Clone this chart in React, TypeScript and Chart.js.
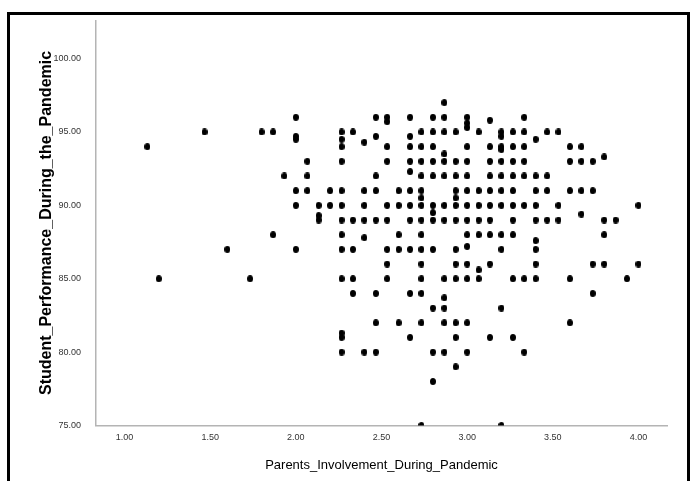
import React, { useEffect, useRef } from 'react';
import { Chart, registerables } from 'chart.js';

Chart.register(...registerables);

const xTicks = [1, 1.5, 2, 2.5, 3, 3.5, 4];
const yTicks = [75, 80, 85, 90, 95, 100];
const xTitle = 'Parents_Involvement_During_Pandemic';
const yTitle = 'Student_Performance_During_the_Pandemic';

// Student performance levels (y) and the parents' involvement scores (x) observed at each level
const performanceLevels = [
  97, 96, 95.8, 95.7, 95.6, 95.3, 95, 94.7, 94.5, 94.3, 94, 93.8, 93.5, 93.3, 93, 92.3, 92, 91, 90.5, 90,
  89.5, 89.4, 89.3, 89, 88, 87.8, 87.6, 87.2, 87, 86, 85.6, 85, 84, 83.7, 83, 82, 81.3, 81, 80, 79, 78, 75,
];

const involvementAtLevel: number[][] = [
  [2.867], // 97
  [2.0, 2.467, 2.533, 2.667, 2.8, 2.867, 3.0, 3.333], // 96
  [3.133], // 95.8
  [2.533], // 95.7
  [3.0], // 95.6
  [3.0], // 95.3
  [1.467, 1.8, 1.867, 2.267, 2.333, 2.733, 2.8, 2.867, 2.933, 3.067, 3.2, 3.267, 3.333, 3.467, 3.533], // 95
  [2.0, 2.467, 2.667, 3.2], // 94.7
  [2.0, 2.267, 3.4], // 94.5
  [2.4], // 94.3
  [1.133, 2.267, 2.533, 2.667, 2.733, 2.8, 3.0, 3.133, 3.2, 3.267, 3.333, 3.6, 3.667], // 94
  [3.2], // 93.8
  [2.867], // 93.5
  [3.8], // 93.3
  [2.067, 2.267, 2.533, 2.667, 2.733, 2.8, 2.867, 2.933, 3.0, 3.133, 3.2, 3.267, 3.333, 3.6, 3.667, 3.733], // 93
  [2.667], // 92.3
  [1.933, 2.067, 2.467, 2.733, 2.8, 2.867, 2.933, 3.0, 3.133, 3.2, 3.267, 3.333, 3.4, 3.467], // 92
  [2.0, 2.067, 2.2, 2.267, 2.4, 2.467, 2.6, 2.667, 2.733, 2.933, 3.0, 3.067, 3.133, 3.2, 3.267, 3.4, 3.467, 3.6, 3.667, 3.733], // 91
  [2.733, 2.933], // 90.5
  [2.0, 2.133, 2.2, 2.267, 2.4, 2.533, 2.6, 2.667, 2.733, 2.8, 2.867, 2.933, 3.0, 3.067, 3.133, 3.2, 3.267, 3.333, 3.4, 3.533, 4.0], // 90
  [2.8], // 89.5
  [3.667], // 89.4
  [2.133], // 89.3
  [2.133, 2.267, 2.333, 2.4, 2.467, 2.533, 2.667, 2.733, 2.8, 2.867, 2.933, 3.0, 3.067, 3.133, 3.267, 3.4, 3.467, 3.533, 3.8, 3.867], // 89
  [1.867, 2.267, 2.6, 2.733, 3.0, 3.067, 3.133, 3.2, 3.267, 3.8], // 88
  [2.4], // 87.8
  [3.4], // 87.6
  [3.0], // 87.2
  [1.6, 2.0, 2.267, 2.333, 2.533, 2.6, 2.667, 2.733, 2.8, 2.933, 3.2, 3.4], // 87
  [2.533, 2.733, 2.933, 3.0, 3.133, 3.4, 3.733, 3.8, 4.0], // 86
  [3.067], // 85.6
  [1.2, 1.733, 2.267, 2.333, 2.533, 2.733, 2.867, 2.933, 3.0, 3.067, 3.267, 3.333, 3.4, 3.6, 3.933], // 85
  [2.333, 2.467, 2.667, 2.733, 3.733], // 84
  [2.867], // 83.7
  [2.8, 2.867, 3.2], // 83
  [2.467, 2.6, 2.733, 2.867, 2.933, 3.0, 3.6], // 82
  [2.267], // 81.3
  [2.267, 2.667, 2.933, 3.133, 3.267], // 81
  [2.267, 2.4, 2.467, 2.8, 2.867, 3.0, 3.333], // 80
  [2.933], // 79
  [2.8], // 78
  [2.733, 3.2], // 75
];

const sans = "'Liberation Sans', Arial, sans-serif";

export default function App() {
  const ref = useRef<HTMLCanvasElement | null>(null);

  useEffect(() => {
    if (!ref.current) return;
    const points = performanceLevels.flatMap((y, i) => involvementAtLevel[i].map((x) => ({ x, y })));

    const dot = document.createElement('canvas');
    dot.width = 6;
    dot.height = 7;
    const dctx = dot.getContext('2d');
    if (dctx) {
      dctx.fillStyle = '#000';
      dctx.beginPath();
      dctx.ellipse(3, 3.5, 3, 3.5, 0, 0, Math.PI * 2);
      dctx.fill();
    }

    const chart = new Chart(ref.current, {
      type: 'scatter',
      data: {
        datasets: [
          {
            data: points,
            pointStyle: dot as any,
            pointRadius: 3,
            pointHoverRadius: 3,
            pointBorderWidth: 0,
            backgroundColor: '#000',
            borderColor: '#000',
          },
        ],
      },
      options: {
        animation: false,
        responsive: false,
        devicePixelRatio: 1,
        layout: { autoPadding: false, padding: { top: 20, right: 29, left: 0, bottom: 0 } },
        plugins: { legend: { display: false }, tooltip: { enabled: false } },
        scales: {
          x: {
            type: 'linear',
            min: 5 / 6,
            max: 25 / 6,
            afterBuildTicks: (s: any) => {
              s.ticks = xTicks.map((v) => ({ value: v }));
            },
            afterFit: (s: any) => {
              s.height = 55.5;
            },
            grid: { display: false, drawTicks: false },
            border: { display: true, color: '#b4b4b4', width: 1.5 },
            ticks: {
              padding: 7,
              color: '#333',
              font: { family: sans, size: 9 },
              callback: (v: any) => Number(v).toFixed(2),
            },
            title: {
              display: true,
              text: xTitle,
              color: '#000',
              font: { family: sans, size: 13 },
              padding: { top: 0, bottom: 8 },
            },
          },
          y: {
            type: 'linear',
            min: 75,
            max: 102.6,
            afterBuildTicks: (s: any) => {
              s.ticks = yTicks.map((v) => ({ value: v }));
            },
            afterFit: (s: any) => {
              s.width = 96;
            },
            grid: { display: false, drawTicks: false },
            border: { display: true, color: '#b4b4b4', width: 1.5 },
            ticks: {
              padding: 15,
              color: '#333',
              font: { family: sans, size: 9 },
              callback: (v: any) => Number(v).toFixed(2),
            },
            title: {
              display: true,
              text: yTitle,
              color: '#000',
              font: { family: sans, size: 16, weight: 'bold' },
              padding: { top: 37, bottom: 0 },
            },
          },
        },
      },
    });
    return () => chart.destroy();
  }, []);

  return (
    <div
      style={{
        position: 'fixed',
        left: 0,
        top: 0,
        width: 696,
        height: 481,
        overflow: 'hidden',
        background: '#fff',
      }}
    >
      <canvas ref={ref} width={696} height={481} style={{ position: 'absolute', left: 0, top: 0 }} />
      <div
        style={{
          position: 'absolute',
          left: 7,
          top: 12,
          width: 683,
          height: 520,
          boxSizing: 'border-box',
          borderLeft: '3px solid #000',
          borderTop: '3px solid #000',
          borderRight: '3px solid #000',
          pointerEvents: 'none',
        }}
      />
    </div>
  );
}
